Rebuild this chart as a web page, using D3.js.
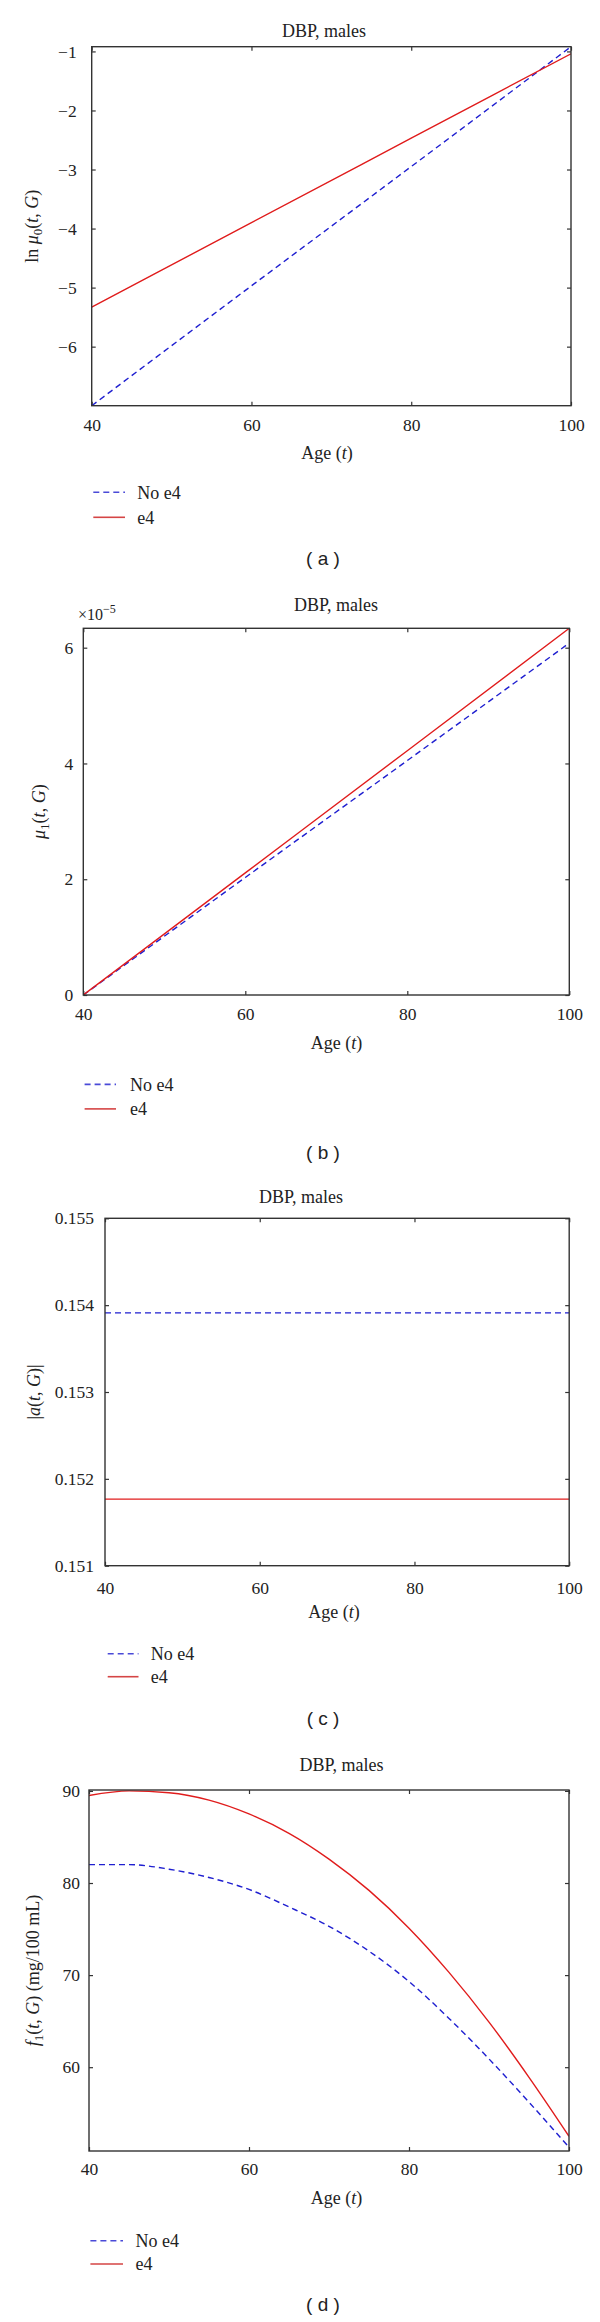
<!DOCTYPE html>
<html>
<head>
<meta charset="utf-8">
<script src="https://cdn.jsdelivr.net/npm/d3@7"></script>
<style>
  body { margin: 0; background: #fff; }
  text { font-family: "Liberation Serif", "Times New Roman", serif; fill: #222; }
  .caption { font-family: "Liberation Sans", Arial, sans-serif; }
</style>
</head>
<body>
<div id="chart"></div>
<script>
// data
var seriesNames = ["No e4", "e4"];
var ageTicks = [40, 60, 80, 100];

var lnMu0Ages = [40, 60, 80, 100];
var lnMu0NoE4 = [-7.0, -4.97, -2.95, -0.92];
var lnMu0E4 = [-5.33, -3.90, -2.47, -1.04];
var lnMu0Ticks = [-6, -5, -4, -3, -2, -1];

// in units of 1e-5
var mu1Ages = [40, 60, 80, 100];
var mu1NoE4 = [0, 2.03, 4.05, 6.08];
var mu1E4 = [0, 2.11, 4.22, 6.335];
var mu1Ticks = [0, 2, 4, 6];

var aAges = [40, 100];
var aNoE4 = [0.153911, 0.153911];
var aE4 = [0.151766, 0.151766];
var aTicks = [0.151, 0.152, 0.153, 0.154, 0.155];

var f1Ages = [40, 45, 50, 55, 60, 65, 70, 75, 80, 85, 90, 95, 100];
var f1NoE4 = [82.0, 82.0, 81.5, 80.6, 79.3, 77.4, 75.3, 72.6, 69.3, 65.3, 60.9, 56.2, 51.3];
var f1E4 = [89.5, 90.0, 89.8, 89.0, 87.5, 85.4, 82.6, 79.2, 75.1, 70.3, 64.9, 58.9, 52.5];
var f1Ticks = [60, 70, 80, 90];

var blue = "#1f1fd0";
var red = "#e01c1c";

var svg = d3.select("#chart")
  .append("svg")
  .attr("width", 600)
  .attr("height", 2322);

var panels = [
  {
    id: "a", ages: lnMu0Ages, noE4: lnMu0NoE4, e4: lnMu0E4, yTicks: lnMu0Ticks,
    yDomain: [-7, -0.92], fmt: d3.format("d"),
    box: {left: 91.7, right: 571, top: 46.7, bottom: 405.7},
    title: [324, 30.4], xLabel: [327, 452.3], yLabelX: 31.7, yPad: 15, xPad: 13,
    yLabel: [["ln ", ""], ["μ", "i"], ["0", "sub"], ["(", ""], ["t", "i"], [", ", ""], ["G", "i"], [")", ""]],
    legend: {x1: 93.3, x2: 125, tx: 137.3, y1: 492.3, y2: 517.3}, caption: 558.3
  },
  {
    id: "b", ages: mu1Ages, noE4: mu1NoE4, e4: mu1E4, yTicks: mu1Ticks,
    yDomain: [0, 6.335], fmt: d3.format("d"),
    box: {left: 83.3, right: 569.3, top: 628.3, bottom: 995},
    title: [336, 605], xLabel: [336.5, 1043], yLabelX: 38.5, yPad: 10, xPad: 13,
    yLabel: [["μ", "i"], ["1", "sub"], ["(", ""], ["t", "i"], [", ", ""], ["G", "i"], [")", ""]],
    legend: {x1: 84.6, x2: 116, tx: 130, y1: 1084.4, y2: 1108.9}, caption: 1152,
    exponent: [78, 620]
  },
  {
    id: "c", ages: aAges, noE4: aNoE4, e4: aE4, yTicks: aTicks,
    yDomain: [0.151, 0.155], fmt: d3.format(".3f"),
    box: {left: 105, right: 569.2, top: 1218.3, bottom: 1565.7},
    title: [301, 1197], xLabel: [334, 1612], yLabelX: 33.3, yPad: 11, xPad: 16,
    yLabel: [["|", ""], ["a", "i"], ["(", ""], ["t", "i"], [", ", ""], ["G", "i"], [")|", ""]],
    legend: {x1: 107.7, x2: 138.5, tx: 150.8, y1: 1653.7, y2: 1676.7}, caption: 1718.5
  },
  {
    id: "d", ages: f1Ages, noE4: f1NoE4, e4: f1E4, yTicks: f1Ticks,
    yDomain: [50.9, 90.1], fmt: d3.format("d"),
    box: {left: 89, right: 569, top: 1790, bottom: 2151},
    title: [341.5, 1765], xLabel: [336.5, 2197.4], yLabelX: 32.7, yPad: 9, xPad: 12,
    yLabel: [["f", "i"], ["1", "sub"], ["(", ""], ["t", "i"], [", ", ""], ["G", "i"], [") (mg/100 mL)", ""]],
    legend: {x1: 90.4, x2: 123, tx: 135.4, y1: 2240.7, y2: 2264}, caption: 2304.8
  }
];

function drawPanel(p) {
  var b = p.box;
  var g = svg.append("g").attr("class", "panel-" + p.id);

  var x = d3.scaleLinear().domain([40, 100]).range([b.left, b.right]);
  var y = d3.scaleLinear().domain(p.yDomain).range([b.bottom, b.top]);

  g.append("clipPath").attr("id", "clip-" + p.id)
    .append("rect")
    .attr("x", b.left).attr("y", b.top)
    .attr("width", b.right - b.left).attr("height", b.bottom - b.top);

  // inward ticks on all four sides
  var bottomAxis = d3.axisBottom(x).tickValues(ageTicks).tickSize(-4).tickPadding(p.xPad).tickFormat(d3.format("d"));
  var topAxis = d3.axisTop(x).tickValues(ageTicks).tickSize(-4).tickFormat("");
  var leftAxis = d3.axisLeft(y).tickValues(p.yTicks).tickSize(-4).tickPadding(p.yPad).tickFormat(p.fmt);
  var rightAxis = d3.axisRight(y).tickValues(p.yTicks).tickSize(-4).tickFormat("");

  g.append("g").attr("transform", "translate(0," + b.bottom + ")").call(bottomAxis);
  g.append("g").attr("transform", "translate(0," + b.top + ")").call(topAxis);
  g.append("g").attr("transform", "translate(" + b.left + ",0)").call(leftAxis);
  g.append("g").attr("transform", "translate(" + b.right + ",0)").call(rightAxis);

  g.selectAll(".domain").remove();
  g.selectAll(".tick line").attr("stroke", "#333").attr("stroke-width", 1.2);
  g.selectAll(".tick text")
    .attr("font-family", "Liberation Serif")
    .attr("font-size", 17.5)
    .attr("fill", "#222");

  var line = d3.line()
    .x(function(d) { return x(d[0]); })
    .y(function(d) { return y(d[1]); })
    .curve(d3.curveMonotoneX);

  var noE4 = p.ages.map(function(a, i) { return [a, p.noE4[i]]; });
  var e4 = p.ages.map(function(a, i) { return [a, p.e4[i]]; });

  var plot = g.append("g").attr("clip-path", "url(#clip-" + p.id + ")");
  plot.append("path").datum(noE4)
    .attr("d", line)
    .attr("fill", "none")
    .attr("stroke", blue)
    .attr("stroke-width", 1.4)
    .attr("stroke-dasharray", "6,4");
  plot.append("path").datum(e4)
    .attr("d", line)
    .attr("fill", "none")
    .attr("stroke", red)
    .attr("stroke-width", 1.4);

  // frame
  g.append("rect")
    .attr("x", b.left).attr("y", b.top)
    .attr("width", b.right - b.left).attr("height", b.bottom - b.top)
    .attr("fill", "none")
    .attr("stroke", "#333")
    .attr("stroke-width", 1.4);

  g.append("text")
    .attr("x", p.title[0]).attr("y", p.title[1])
    .attr("dy", "0.35em")
    .attr("text-anchor", "middle")
    .attr("font-size", 18)
    .text("DBP, males");

  var xl = g.append("text")
    .attr("x", p.xLabel[0]).attr("y", p.xLabel[1])
    .attr("dy", "0.35em")
    .attr("text-anchor", "middle")
    .attr("font-size", 18);
  xl.append("tspan").text("Age (");
  xl.append("tspan").attr("font-style", "italic").text("t");
  xl.append("tspan").text(")");

  // rotated y label built from pieces
  var yl = g.append("text")
    .attr("transform", "translate(" + p.yLabelX + "," + ((b.top + b.bottom) / 2) + ") rotate(-90)")
    .attr("dy", "0.35em")
    .attr("text-anchor", "middle")
    .attr("font-size", 18);
  var shifted = false;
  p.yLabel.forEach(function(part) {
    var t = yl.append("tspan").text(part[0]);
    if (part[1] == "i") t.attr("font-style", "italic");
    if (part[1] == "sub") {
      t.attr("font-size", 13).attr("dy", 4);
      shifted = true;
    } else if (shifted) {
      t.attr("dy", -4);
      shifted = false;
    }
  });

  if (p.exponent) {
    var ex = g.append("text")
      .attr("x", p.exponent[0]).attr("y", p.exponent[1])
      .attr("font-size", 16);
    ex.append("tspan").text("×10");
    ex.append("tspan").attr("font-size", 12).attr("dy", -7).text("−5");
  }

  // legend
  var lg = p.legend;
  var legendRows = [
    {name: seriesNames[0], color: "#4a4ad8", dash: "6,4", y: lg.y1},
    {name: seriesNames[1], color: "#d54545", dash: null, y: lg.y2}
  ];
  legendRows.forEach(function(r) {
    g.append("line")
      .attr("x1", lg.x1).attr("x2", lg.x2)
      .attr("y1", r.y).attr("y2", r.y)
      .attr("stroke", r.color)
      .attr("stroke-width", 1.6)
      .attr("stroke-dasharray", r.dash);
    g.append("text")
      .attr("x", lg.tx).attr("y", r.y)
      .attr("dy", "0.35em")
      .attr("font-size", 18)
      .text(r.name);
  });

  g.append("text")
    .attr("class", "caption")
    .attr("x", 323).attr("y", p.caption)
    .attr("dy", "0.35em")
    .attr("text-anchor", "middle")
    .attr("font-size", 19)
    .text("( " + p.id + " )");
}

panels.forEach(drawPanel);
</script>
</body>
</html>
